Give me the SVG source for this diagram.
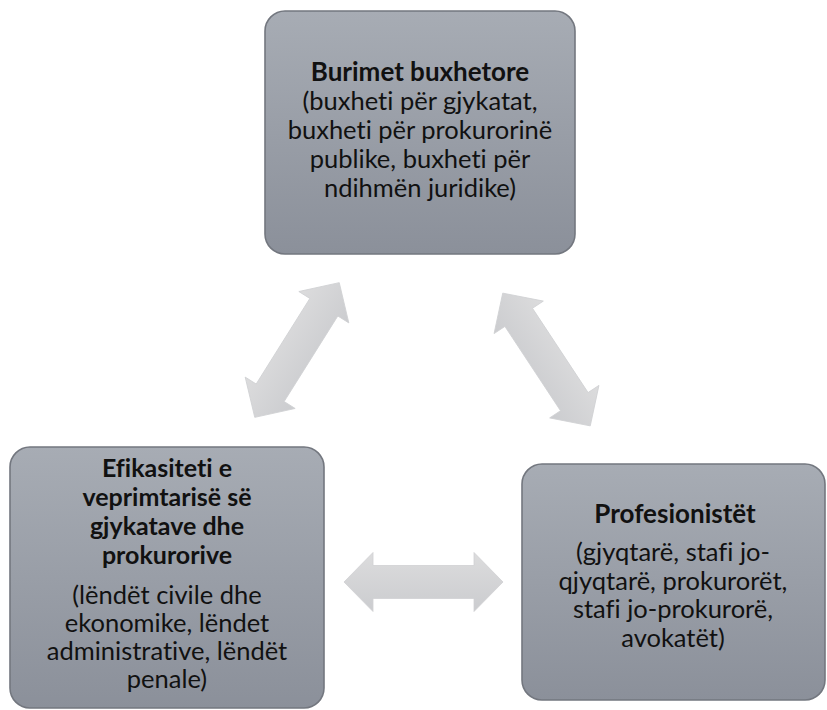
<svg xmlns="http://www.w3.org/2000/svg" width="827" height="710" viewBox="0 0 827 710">
<defs>
<linearGradient id="boxg" x1="0" y1="0" x2="0" y2="1">
<stop offset="0" stop-color="#a7acb4"/>
<stop offset="1" stop-color="#8b909a"/>
</linearGradient>
<linearGradient id="arrg" x1="0" y1="0" x2="0" y2="1">
<stop offset="0" stop-color="#dcdcdd"/>
<stop offset="1" stop-color="#cbcccf"/>
</linearGradient>
<path id="dbl" d="M -79.5 0 L -50.5 -29.5 L -50.5 -16.5 L 50.5 -16.5 L 50.5 -29.5 L 79.5 0 L 50.5 29.5 L 50.5 16.5 L -50.5 16.5 L -50.5 29.5 Z"/>
</defs>
<style>
.box{fill:url(#boxg);stroke:#73777f;stroke-width:1.6}
.arr{fill:url(#arrg);stroke:#d0d1d3;stroke-width:0.8}
text{font-family:Lato,"Liberation Sans",sans-serif;font-size:25.5px;fill:#111;text-anchor:middle;font-variant-ligatures:none;font-feature-settings:"liga" 0}
.b{font-weight:bold;font-size:26px}
.bs{font-weight:bold;font-size:25px}
</style>
<rect width="827" height="710" fill="#ffffff"/>
<g id="connectors">
<use href="#dbl" class="arr" transform="translate(297 350) rotate(-57.9)"/>
<use href="#dbl" class="arr" transform="translate(546.5 359.5) rotate(56.6)"/>
<use href="#dbl" class="arr" transform="translate(423.5 582)"/>
</g>
<g id="node-budget">
<rect class="box" x="265" y="11" width="310" height="243" rx="20"/>
<text class="b" x="420" y="81">Burimet buxhetore</text>
<text x="420" y="110">(buxheti për gjykatat,</text>
<text x="420" y="139">buxheti për prokurorinë</text>
<text x="420" y="168">publike, buxheti për</text>
<text x="420" y="197">ndihmën juridike)</text>
</g>
<g id="node-efficiency">
<rect class="box" x="10" y="447" width="314" height="261" rx="20"/>
<text class="bs" x="167" y="477">Efikasiteti e</text>
<text class="bs" x="167" y="506">veprimtarisë së</text>
<text class="bs" x="167" y="535">gjykatave dhe</text>
<text class="bs" x="167" y="564">prokurorive</text>
<text x="167" y="604">(lëndët civile dhe</text>
<text x="167" y="632">ekonomike, lëndet</text>
<text x="167" y="660">administrative, lëndët</text>
<text x="167" y="688">penale)</text>
</g>
<g id="node-professionals">
<rect class="box" x="522" y="464" width="303" height="236" rx="20"/>
<text class="b" x="675" y="523">Profesionistët</text>
<text x="673" y="561">(gjyqtarë, stafi jo-</text>
<text x="673" y="590">qjyqtarë, prokurorët,</text>
<text x="673" y="618">stafi jo-prokurorë,</text>
<text x="673" y="647">avokatët)</text>
</g>
</svg>
